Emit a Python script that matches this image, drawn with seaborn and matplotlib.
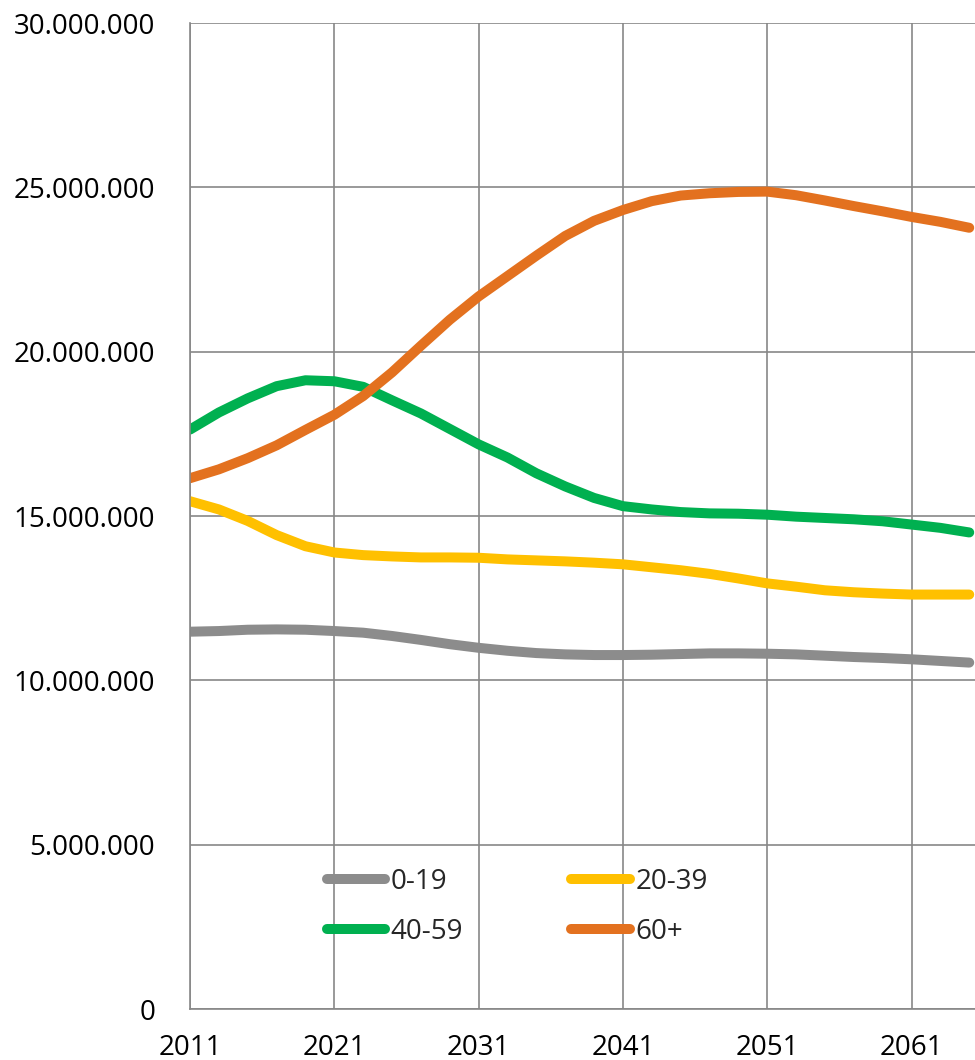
import numpy as np
import pandas as pd
import matplotlib
matplotlib.use("Agg")
import matplotlib.pyplot as plt
import matplotlib.ticker as mticker
import seaborn as sns

# Population by age group (millions), projection years
years = [2011, 2013, 2015, 2017, 2019, 2021, 2023, 2025, 2027, 2029,
         2031, 2033, 2035, 2037, 2039, 2041, 2043, 2045, 2047, 2049,
         2051, 2053, 2055, 2057, 2059, 2061, 2063, 2065]

age_0_19 = [11.48, 11.50, 11.54, 11.55, 11.54, 11.50, 11.45, 11.35, 11.23, 11.10,
            10.99, 10.90, 10.83, 10.79, 10.77, 10.77, 10.78, 10.80, 10.82, 10.82,
            10.81, 10.79, 10.75, 10.71, 10.68, 10.64, 10.59, 10.54]

age_20_39 = [15.45, 15.20, 14.85, 14.42, 14.08, 13.89, 13.81, 13.77, 13.74, 13.74,
             13.73, 13.68, 13.65, 13.62, 13.58, 13.53, 13.44, 13.35, 13.24, 13.10,
             12.95, 12.85, 12.74, 12.68, 12.64, 12.61, 12.61, 12.61]

age_40_59 = [17.63, 18.15, 18.58, 18.95, 19.13, 19.10, 18.93, 18.52, 18.12, 17.65,
             17.18, 16.78, 16.30, 15.90, 15.55, 15.30, 15.20, 15.12, 15.08, 15.07,
             15.04, 14.98, 14.94, 14.90, 14.84, 14.74, 14.64, 14.50]

age_60_plus = [16.15, 16.42, 16.76, 17.15, 17.62, 18.08, 18.65, 19.37, 20.18, 20.97,
               21.68, 22.30, 22.92, 23.52, 23.98, 24.31, 24.58, 24.75, 24.82, 24.86,
               24.87, 24.76, 24.60, 24.43, 24.27, 24.10, 23.95, 23.77]

groups = ["0-19", "20-39", "40-59", "60+"]
colors = ["#8C8C8C", "#FFC000", "#00B050", "#E3711F"]

y_ticks = [0, 5_000_000, 10_000_000, 15_000_000, 20_000_000, 25_000_000, 30_000_000]
x_ticks = [2011, 2021, 2031, 2041, 2051, 2061]

series = {"0-19": age_0_19, "20-39": age_20_39, "40-59": age_40_59, "60+": age_60_plus}
df = pd.concat(
    [pd.DataFrame({"year": years, "pop": np.array(v) * 1e6, "group": k}) for k, v in series.items()],
    ignore_index=True,
)

sns.set_theme(style="white")
plt.rcParams["font.family"] = ["Open Sans", "DejaVu Sans"]

grid_col = "#878787"
fig = plt.figure(figsize=(9.75, 10.6), dpi=100)
ax = fig.add_axes([0.1949, 0.0481, 0.8051, 0.9302])

sns.lineplot(data=df, x="year", y="pop", hue="group", hue_order=groups,
             palette=dict(zip(groups, colors)), linewidth=7.2, ax=ax,
             legend=True)
for ln in ax.get_lines():
    ln.set_solid_capstyle("round")
    ln.set_solid_joinstyle("round")

ax.set_xlim(2011, 2065.4)
ax.set_ylim(0, 30_000_000)
ax.set_xticks(x_ticks)
ax.set_yticks(y_ticks)
ax.yaxis.set_major_formatter(mticker.FuncFormatter(lambda v, p: f"{int(v):,}".replace(",", ".")))
ax.set_xlabel("")
ax.set_ylabel("")

ax.grid(True, color=grid_col, linewidth=1.2)
ax.set_axisbelow(True)
for side in ["top", "right"]:
    ax.spines[side].set_visible(False)
for side in ["left", "bottom"]:
    ax.spines[side].set_color(grid_col)
    ax.spines[side].set_linewidth(1.2)
ax.tick_params(axis="both", which="major", direction="out", length=7, width=1.2,
               color=grid_col, labelsize=20, labelcolor="black")
ax.tick_params(axis="y", pad=18)
ax.tick_params(axis="x", pad=11)

# two columns filled row by row: 0-19 | 20-39 on top, 40-59 | 60+ below
handles, labels = ax.get_legend_handles_labels()
lookup = dict(zip(labels, handles))
order = ["0-19", "40-59", "20-39", "60+"]
leg = ax.legend([lookup[k] for k in order], order, ncol=2, frameon=False,
                loc="upper left", bbox_to_anchor=(0.174, 0.1435), fontsize=20,
                handlelength=2.1, handletextpad=0.2, columnspacing=3.9,
                labelspacing=0.8, borderpad=0, borderaxespad=0)
for h in leg.get_lines():
    h.set_linewidth(7.2)
    h.set_solid_capstyle("round")

fig.savefig("out.png", dpi=100)
